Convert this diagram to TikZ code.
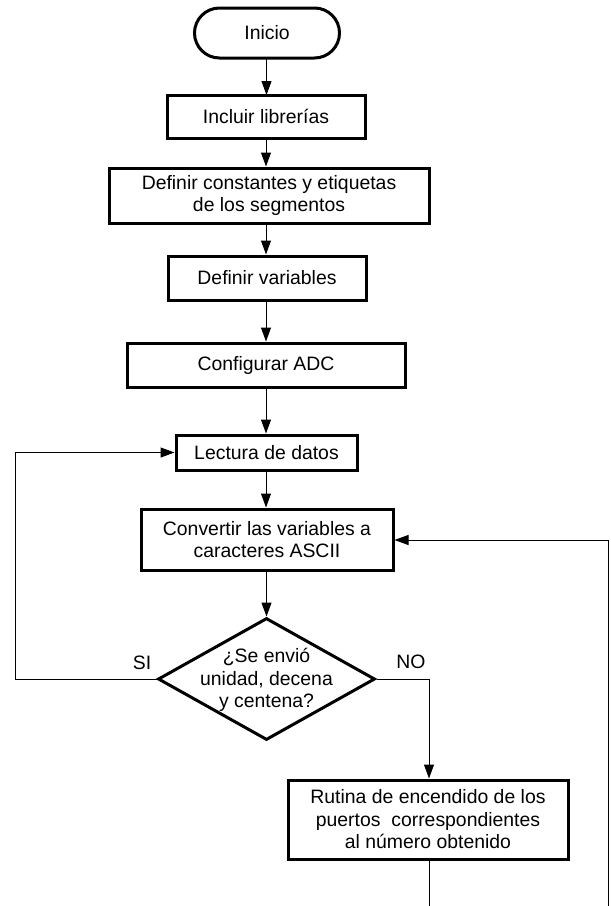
\documentclass[tikz,border=0pt]{standalone}
\usepackage{fontspec}
\setmainfont{Liberation Sans}
\usetikzlibrary{arrows.meta,shapes.geometric}
\begin{document}
\begin{tikzpicture}[x=1pt,y=-1pt,
  box/.style={draw, line width=3pt, rectangle, inner sep=0pt, align=center,
    font=\fontsize{19.4}{22.5}\selectfont},
  term/.style={box, rounded corners=25pt},
  decis/.style={draw, line width=3pt, diamond, inner sep=0pt},
  txt/.style={align=center, inner sep=0pt, font=\fontsize{19.4}{22.5}\selectfont},
  conn/.style={line width=1pt, -{Triangle[length=14pt,width=10pt]}},
  line/.style={line width=1pt}]
\useasboundingbox (0,0) rectangle (611,906);
\node[term, minimum width=145, minimum height=50] (ini) at (267,33) {Inicio};
\node[box, minimum width=198, minimum height=43] (incl) at (266,116.5) {Incluir librerías};
\node[box, minimum width=320, minimum height=55] (defc) at (269,195.5) {Definir constantes y etiquetas\\de los segmentos};
\node[box, minimum width=198, minimum height=44] (defv) at (267,278) {Definir variables};
\node[box, minimum width=278, minimum height=44] (adc) at (266,365) {Configurar ADC};
\node[box, minimum width=181, minimum height=35] (lect) at (266.5,452.5) {Lectura de datos};
\node[box, minimum width=252, minimum height=61] (conv) at (267,539.5) {Convertir las variables a\\caracteres ASCII};
\node[decis, minimum width=217, minimum height=122] (dec) at (266.5,679) {};
\node[txt] (dect) at (266.5,680) {¿Se envió\\unidad, decena\\y centena?};
\node[box, minimum width=280, minimum height=79] (rut) at (428,819.5) {Rutina de encendido de los\\puertos~ correspondientes\\al número obtenido};
\node[txt] (si) at (142,663) {SI};
\node[txt] (no) at (411,662) {NO};
\coordinate (lc) at (15,679);
\coordinate (nc) at (429,679);
\coordinate (bot) at (429,906);
\coordinate (rb) at (608,906);
\coordinate (rt) at (608,540);
\draw[conn] (266.5,58) -- (266.5,95);
\draw[conn] (incl.south) -- (incl.south |- defc.north);
\draw[conn] (defc.south -| incl.south) -- (incl.south |- defv.north);
\draw[conn] (defv.south -| incl.south) -- (incl.south |- adc.north);
\draw[conn] (adc.south -| incl.south) -- (incl.south |- lect.north);
\draw[conn] (lect.south -| incl.south) -- (incl.south |- conv.north);
\draw[conn] (conv.south -| dec.north) -- (dec.north);
\draw[conn] (dec.west) -- (lc) |- (lect.west);
\draw[conn] (dec.east) -- (nc) -- (nc |- rut.north);
\draw[line] (rut.south -| nc) -- (bot);
\draw[conn] (rb) -- (rt) -- (conv.east |- rt);
\end{tikzpicture}
\end{document}
